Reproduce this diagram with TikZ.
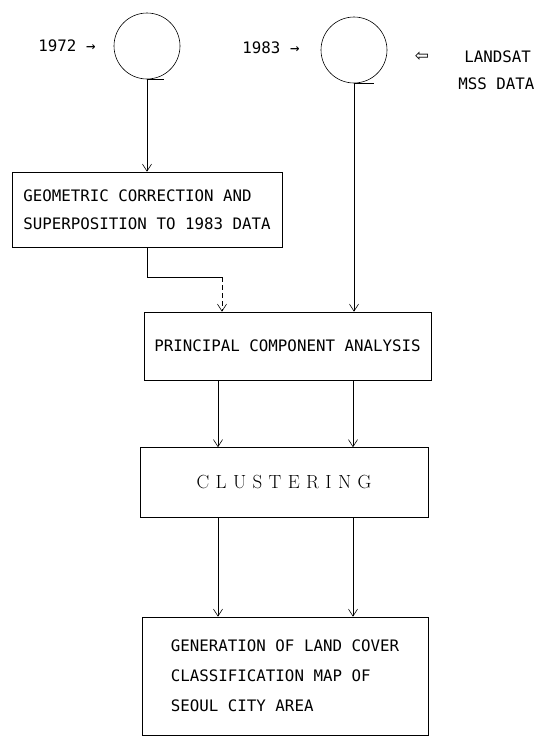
\documentclass[tikz,border=0pt]{standalone}
\usepackage{fontspec}
\usepackage{tikz}
\usetikzlibrary{arrows.meta,positioning}
\newfontfamily\plotfont{DejaVu Sans Mono}
\newfontfamily\arrowfont{DejaVu Sans}
\tikzstyle{arrow} = [->,>={Straight Barb[length=7pt,width=9pt]}]
\tikzstyle{tape} = [draw, circle, minimum size=66pt, inner sep=0pt]
\tikzstyle{box} = [draw, inner sep=0pt, align=left, font=\plotfont\fontsize{15.8}{28}\selectfont]
\tikzstyle{lbl} = [inner sep=0pt, font=\plotfont\fontsize{15.8}{18}\selectfont]

\begin{document}
\begin{tikzpicture}[x=1pt, y=-1pt, line width=0.6pt]
	\useasboundingbox (0,0) rectangle (550,753);

	% input tapes
	\node[tape] (circ72) at (147,46) {};
	\node[tape] (circ83) at (354,50) {};
	\node[lbl] (y72) at (67,46) {1972 →};
	\node[lbl] (y83) at (271,48) {1983 →};
	\node[lbl, font=\arrowfont\fontsize{17}{18}\selectfont] (src) at (422,57) {⇦};
	\node[lbl, anchor=west] (landsat) at (464,57) {LANDSAT};
	\node[lbl, anchor=west] (mss) at (458,84) {MSS DATA};

	% processing steps
	\node[box, minimum width=270pt, minimum height=75pt] (correct) at (147,209.5)
		{GEOMETRIC CORRECTION AND\\SUPERPOSITION TO 1983 DATA};
	\node[box, minimum width=287pt, minimum height=68pt] (pca) at (287.5,346)
		{PRINCIPAL COMPONENT ANALYSIS};
	\node[box, minimum width=288pt, minimum height=70pt, font=\rmfamily\fontsize{19}{22}\selectfont] (cluster) at (284,482.5)
		{\spaceskip=6.4pt C L U S T E R I N G};
	\node[box, minimum width=286pt, minimum height=118pt, font=\plotfont\fontsize{15.8}{30}\selectfont] (landmap) at (285,676)
		{GENERATION OF LAND COVER\\CLASSIFICATION MAP OF\\SEOUL CITY AREA};

	\coordinate (bend) at (222,277);
	\coordinate (lcol) at (218,0);
	\coordinate (rcol) at (353,0);

	\draw (circ72.south) -- ++(17,0);
	\draw (circ83.south) -- ++(20,0);
	\draw[arrow] (circ72.south) -- (correct.north);
	\draw[arrow] (circ83.south) -- (circ83.south |- pca.north);
	\draw (correct.south) |- (bend);
	\draw[arrow, dash pattern=on 5pt off 3pt] (bend) -- (bend |- pca.north);
	\draw[arrow] (lcol |- pca.south) -- (lcol |- cluster.north);
	\draw[arrow] (rcol |- pca.south) -- (rcol |- cluster.north);
	\draw[arrow] (lcol |- cluster.south) -- (lcol |- landmap.north);
	\draw[arrow] (rcol |- cluster.south) -- (rcol |- landmap.north);

\end{tikzpicture}
\end{document}
